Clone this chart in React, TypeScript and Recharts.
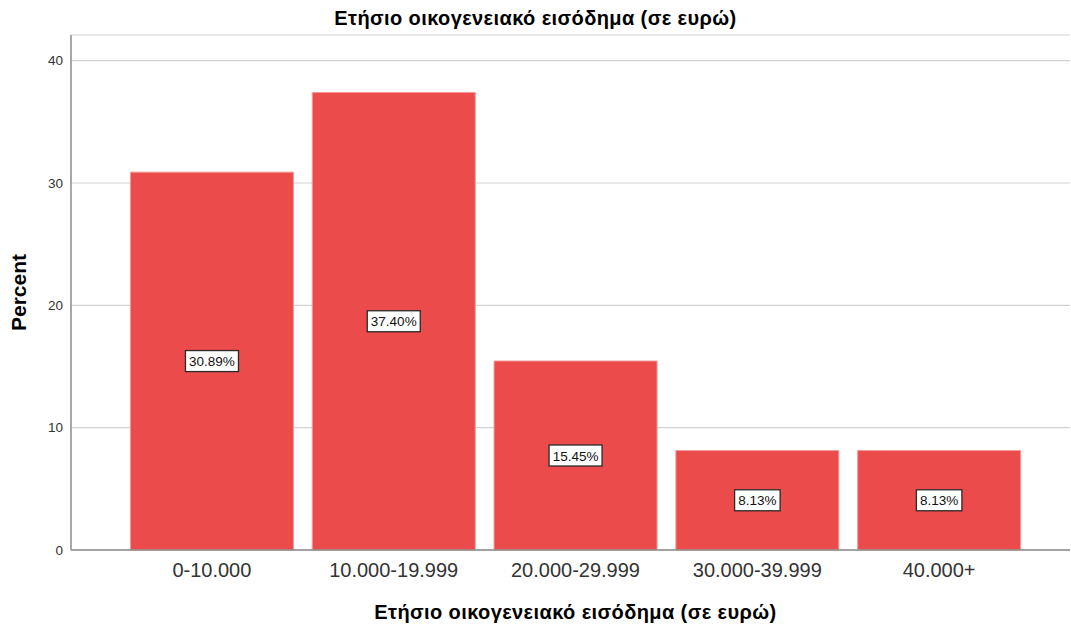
import React from 'react';
import { BarChart, Bar, XAxis, YAxis, CartesianGrid, LabelList, Label } from 'recharts';

// Income bands and the share of households in each one
const categories = ['0-10.000', '10.000-19.999', '20.000-29.999', '30.000-39.999', '40.000+'];
const percents = [30.89, 37.4, 15.45, 8.13, 8.13];
const yTicks = [0, 10, 20, 30, 40];

const chartTitle = 'Ετήσιο οικογενειακό εισόδημα (σε ευρώ)';
const xTitle = 'Ετήσιο οικογενειακό εισόδημα (σε ευρώ)';
const yTitle = 'Percent';

const data = categories.map((category, i) => ({ category, percent: percents[i] }));

const FONT = '"Liberation Sans", Arial, sans-serif';
const X_PAD = { left: 50, right: 40 };

// White boxed percentage placed at half the bar height
const BoxLabel = (props: any) => {
  const { x, y, width, height, value } = props;
  const text = `${Number(value).toFixed(2)}%`;
  const cx = Number(x) + Number(width) / 2;
  const cy = Number(y) + Number(height) / 2;
  const w = text.length * 7.5 + 8;
  const h = 21;
  return (
    <g>
      <rect x={cx - w / 2} y={cy - h / 2} width={w} height={h} fill="#ffffff" stroke="#2a2a2a" strokeWidth={1.3} />
      <text x={cx} y={cy + 0.5} textAnchor="middle" dominantBaseline="central" fontSize={13.5} fontFamily={FONT} fill="#111">
        {text}
      </text>
    </g>
  );
};

const YTitle = (props: any) => {
  const vb = props.viewBox || { x: 0, y: 0, width: 0, height: 0 };
  const x = vb.x + 18;
  const y = vb.y + vb.height / 2;
  return (
    <text x={x} y={y} transform={`rotate(-90 ${x} ${y})`} textAnchor="middle" dominantBaseline="central"
      fontSize={21} fontWeight="bold" fontFamily={FONT} fill="#000">
      {yTitle}
    </text>
  );
};

const XTitle = (props: any) => {
  const vb = props.viewBox || { x: 0, y: 0, width: 0, height: 0 };
  const x = vb.x + X_PAD.left + (vb.width - X_PAD.left - X_PAD.right) / 2;
  const y = vb.y + 62;
  return (
    <text x={x} y={y} textAnchor="middle" dominantBaseline="central" letterSpacing={0.4}
      fontSize={20} fontWeight="bold" fontFamily={FONT} fill="#000">
      {xTitle}
    </text>
  );
};

export default function App() {
  return (
    <div style={{ position: 'absolute', left: 0, top: 0, width: 1071, height: 626, background: '#fff', fontFamily: FONT }}>
      <div style={{ position: 'absolute', left: 0, top: 6, width: 1071, textAlign: 'center', fontSize: 20, fontWeight: 'bold', lineHeight: '24px', letterSpacing: '0.4px', color: '#000' }}>
        {chartTitle}
      </div>
      <BarChart width={1071} height={626} data={data} margin={{ top: 35, right: 1, bottom: 0, left: 0 }} barCategoryGap="5.2%">
        <CartesianGrid horizontal vertical={false} stroke="#d2d2d2" strokeWidth={1.2} />
        <XAxis
          dataKey="category"
          interval={0}
          height={76}
          padding={X_PAD}
          tickLine={false}
          tickMargin={7}
          axisLine={{ stroke: '#8c8c8c', strokeWidth: 1.5 }}
          tick={{ fontSize: 20, fill: '#333', fontFamily: FONT }}
        >
          <Label content={<XTitle />} />
        </XAxis>
        <YAxis
          width={71}
          domain={[0, 42.1]}
          ticks={yTicks}
          tickLine={false}
          axisLine={{ stroke: '#8c8c8c', strokeWidth: 1.5 }}
          tick={{ fontSize: 13.5, fill: '#333', fontFamily: FONT }}
        >
          <Label content={<YTitle />} />
        </YAxis>
        <Bar dataKey="percent" fill="#EC4B4C" stroke="#F39A9A" strokeWidth={1} isAnimationActive={false}>
          <LabelList dataKey="percent" content={<BoxLabel />} />
        </Bar>
      </BarChart>
    </div>
  );
}
